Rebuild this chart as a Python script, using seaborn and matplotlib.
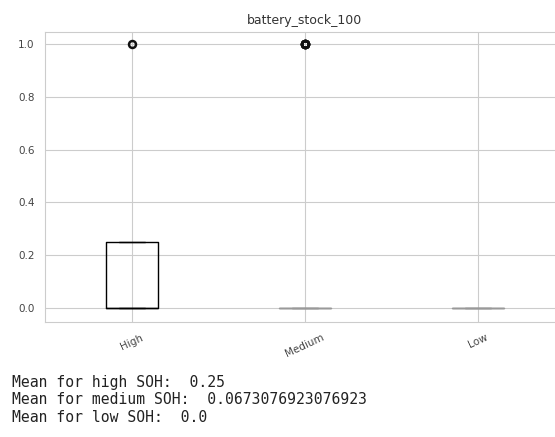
import matplotlib
matplotlib.use("Agg")
import matplotlib.pyplot as plt
import numpy as np
import pandas as pd
import seaborn as sns

# SOH groups, 0/1 outcome values and how often each occurs
categories = ['High', 'Medium', 'Low']
outcome_values = [0, 1]
high_counts = [3, 1]
medium_counts = [97, 7]
low_counts = [20, 0]

mean_lines = [
    'Mean for high SOH:  0.25',
    'Mean for medium SOH:  0.0673076923076923',
    'Mean for low SOH:  0.0',
]

frames = []
for cat, counts in zip(categories, [high_counts, medium_counts, low_counts]):
    vals = np.repeat(outcome_values, counts)
    frames.append(pd.DataFrame({'soh': cat, 'value': vals}))
df = pd.concat(frames, ignore_index=True)

sns.set_style('whitegrid')
fig = plt.figure(figsize=(5.55, 4.37), dpi=100)
ax = fig.add_axes([0.081, 0.263, 0.937, 0.664])

sns.boxplot(data=df, x='soh', y='value', order=categories, ax=ax,
            width=0.3, fill=False, color='black', linecolor='#222222',
            linewidth=1,
            flierprops=dict(marker='o', markersize=5, markeredgewidth=1.8,
                            markeredgecolor='#111111', markerfacecolor='none'))

# collapsed boxes (all zeros) look faint in the original
for ln in ax.lines:
    x = np.asarray(ln.get_xdata(), dtype=float)
    y = np.asarray(ln.get_ydata(), dtype=float)
    if len(y) and np.all(y == 0) and x.mean() > 0.5 and ln.get_linestyle() != 'None':
        ln.set_color('#999999')
for p in ax.patches:
    ext = p.get_path().get_extents(p.get_patch_transform())
    if ext.height == 0 and ext.x0 > 0.5:
        p.set_edgecolor('#999999')

ax.xaxis.grid(True)
ax.set_xlim(-0.5, 2.5)
ax.set_ylim(-0.053, 1.045)
ax.set_yticks([0.0, 0.2, 0.4, 0.6, 0.8, 1.0])
ax.set_xlabel('')
ax.set_ylabel('')
ax.set_title('battery_stock_100', fontsize=9, color='#333333', pad=6)
ax.tick_params(axis='both', labelsize=7.5, colors='#444444', pad=4)
plt.setp(ax.get_xticklabels(), rotation=25)

for i, line in enumerate(mean_lines):
    fig.text(12 / 555, 1 - (382 + 18 * i) / 437, line, family='DejaVu Sans Mono',
             fontsize=10.6, color='#222222', va='center', ha='left')

plt.savefig('out.png', dpi=100)
